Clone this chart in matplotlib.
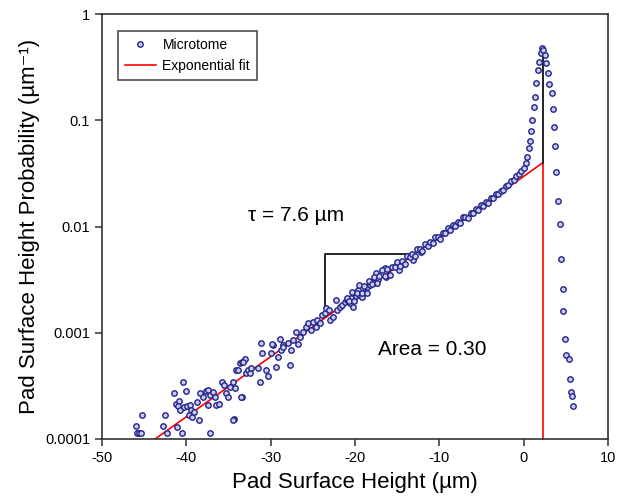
import matplotlib
matplotlib.use("Agg")
import matplotlib.pyplot as plt
from matplotlib.lines import Line2D

plt.rcParams['font.family'] = ['Liberation Sans', 'DejaVu Sans']
plt.rcParams['axes.unicode_minus'] = False

# ---- data ----
# lower tail (sparse, noisy)
tail_x = [-45.30, -45.98, -45.82, -45.59, -45.42, -42.54, -42.75, -42.34, -41.48, -41.24,
          -40.85, -40.97, -40.77, -41.16, -40.38, -40.06, -40.57, -40.30, -39.91, -39.59,
          -39.50, -39.67, -39.27, -39.11, -38.79, -38.40, -38.49, -38.01, -37.69, -37.46,
          -37.22, -37.42, -37.14, -36.83, -36.63, -36.43, -36.12, -35.72, -35.56, -35.33,
          -35.05, -34.77, -34.46, -34.26, -34.38, -34.06, -33.67, -33.35, -33.08, -33.35,
          -32.88, -32.69, -32.49, -32.28, -33.28, -33.87, -33.47, -34.46, -31.50, -31.30,
          -30.98, -30.51, -30.32, -29.92, -29.73, -29.33, -29.14, -28.73, -28.54, -27.75,
          -27.55]
tail_p = [1.68e-4, 1.33e-4, 1.13e-4, 1.13e-4, 1.13e-4, 1.68e-4, 1.32e-4, 1.15e-4, 2.69e-4, 2.13e-4,
          2.28e-4, 2.05e-4, 1.87e-4, 1.31e-4, 3.46e-4, 2.85e-4, 1.13e-4, 2.01e-4, 2.05e-4, 2.09e-4,
          1.87e-4, 1.68e-4, 1.62e-4, 1.81e-4, 2.24e-4, 2.69e-4, 1.51e-4, 2.50e-4, 2.85e-4, 2.89e-4,
          2.59e-4, 2.09e-4, 1.13e-4, 2.79e-4, 2.50e-4, 2.09e-4, 2.13e-4, 3.46e-4, 3.22e-4, 2.69e-4,
          2.50e-4, 3.10e-4, 3.46e-4, 3.00e-4, 1.53e-4, 4.46e-4, 5.15e-4, 5.33e-4, 5.62e-4, 2.47e-4,
          4.15e-4, 4.46e-4, 4.15e-4, 4.62e-4, 5.33e-4, 4.46e-4, 2.50e-4, 1.51e-4, 4.62e-4, 3.46e-4,
          6.41e-4, 4.46e-4, 3.92e-4, 6.41e-4, 7.67e-4, 4.79e-4, 5.96e-4, 6.89e-4, 7.67e-4, 4.97e-4,
          6.89e-4]

# middle section
mid_x = [-31.10, -29.80, -28.93, -28.54, -27.95, -27.36, -26.96, -26.77, -26.57, -26.18,
         -25.86, -25.59, -25.18, -24.99, -24.67, -24.52, -24.20, -23.88, -23.61, -23.41,
         -23.10, -23.02, -22.63, -22.31, -22.15, -21.83, -21.51, -21.24, -20.97, -20.65,
         -20.45, -20.26, -19.94, -19.67, -19.47, -19.15, -18.88, -18.60, -18.28, -17.96,
         -17.69, -17.49, -17.30, -16.50, -16.31, -14.73, -14.14, -13.16, -12.17]
mid_p = [7.96e-4, 7.83e-4, 8.73e-4, 7.29e-4, 7.96e-4, 8.55e-4, 1.023e-3, 7.83e-4, 9.18e-4, 1.023e-3,
         1.140e-3, 1.245e-3, 1.062e-3, 1.271e-3, 1.140e-3, 1.318e-3, 1.227e-3, 1.469e-3, 1.545e-3, 1.698e-3,
         1.637e-3, 1.318e-3, 1.416e-3, 2.032e-3, 1.637e-3, 1.758e-3, 1.824e-3, 1.959e-3, 2.032e-3, 1.892e-3,
         2.109e-3, 1.758e-3, 2.218e-3, 2.523e-3, 2.265e-3, 2.183e-3, 2.432e-3, 2.710e-3, 2.812e-3, 3.020e-3,
         2.917e-3, 3.631e-3, 3.184e-3, 4.04e-3, 3.37e-3, 3.90e-3, 4.41e-3, 4.84e-3, 5.79e-3]

# dense band
band_x = [-21.0, -20.7, -20.4, -20.1, -19.8, -19.5, -19.2, -18.9, -18.6, -18.3,
          -18.0, -17.7, -17.4, -17.1, -16.8, -16.5, -16.2, -15.9, -15.6, -15.3,
          -15.0, -14.7, -14.4, -14.1, -13.8, -13.5, -13.2, -12.9, -12.6, -12.3,
          -12.0, -11.7, -11.4, -11.1, -10.8, -10.5, -10.2, -9.9, -9.6, -9.3,
          -9.0, -8.7, -8.4, -8.1, -7.8, -7.5, -7.2, -6.9, -6.6, -6.3,
          -6.0, -5.7, -5.4, -5.1, -4.8, -4.5, -4.2, -3.9, -3.6, -3.3,
          -3.0, -2.7, -2.4, -2.1, -1.8, -1.5, -1.2, -0.9, -0.6, -0.3]
band_p = [2.14e-3, 1.99e-3, 2.43e-3, 2.00e-3, 2.39e-3, 2.79e-3, 2.37e-3, 2.76e-3, 2.39e-3, 3.05e-3,
          2.90e-3, 3.38e-3, 2.92e-3, 3.41e-3, 3.90e-3, 3.45e-3, 3.94e-3, 3.48e-3, 4.16e-3, 4.13e-3,
          4.60e-3, 4.28e-3, 4.76e-3, 4.42e-3, 5.27e-3, 5.12e-3, 5.57e-3, 5.28e-3, 6.18e-3, 6.14e-3,
          5.82e-3, 6.79e-3, 6.59e-3, 7.18e-3, 6.97e-3, 7.96e-3, 7.91e-3, 7.67e-3, 8.75e-3, 8.69e-3,
          9.68e-3, 9.18e-3, 1.026e-2, 1.019e-2, 1.109e-2, 1.076e-2, 1.227e-2, 1.219e-2, 1.211e-2, 1.352e-2,
          1.343e-2, 1.462e-2, 1.419e-2, 1.581e-2, 1.570e-2, 1.710e-2, 1.663e-2, 1.854e-2, 1.841e-2, 2.004e-2,
          2.037e-2, 2.168e-2, 2.203e-2, 2.404e-2, 2.443e-2, 2.661e-2, 2.767e-2, 3.013e-2, 3.133e-2, 3.334e-2]

# peak
peak_x = [0.06, 0.26, 0.45, 0.65, 0.77, 0.89, 1.04, 1.24, 1.36, 1.44,
          1.72, 1.87, 2.04, 2.22, 2.35, 2.54, 2.70, 2.90, 3.05, 3.34,
          3.46, 3.61, 3.73, 3.88, 4.05, 4.32, 4.47, 4.64, 4.71, 4.91,
          5.07, 5.38, 5.50, 5.62, 5.74, 5.89]
peak_p = [0.0353, 0.0393, 0.0454, 0.0544, 0.0642, 0.0798, 0.1005, 0.134, 0.167, 0.226,
          0.297, 0.356, 0.432, 0.475, 0.46, 0.411, 0.348, 0.277, 0.218, 0.180,
          0.128, 0.0859, 0.0573, 0.0328, 0.0174, 0.01056, 0.00491, 0.00258, 0.0016, 0.00087,
          0.000616, 0.000566, 0.000365, 0.000277, 0.000254, 0.000205]

# exponential fit end points and annotation geometry
fit_x = [-43.7, 2.3]
fit_p = [1.0e-4, 0.040]
peak_top = 0.475
tri_x = [-23.5, -23.5, -13.0]
tri_p = [1.58e-3, 5.47e-3, 5.47e-3]

x_ticks = [-50, -40, -30, -20, -10, 0, 10]
y_ticks = [1e-4, 1e-3, 1e-2, 1e-1, 1]
y_tick_labels = ["0.0001", "0.001", "0.01", "0.1", "1"]

# ---- figure ----
W, H = 617, 503
fig = plt.figure(figsize=(W / 100, H / 100), dpi=100)
ax = fig.add_axes([102 / W, 1 - 439 / H, (608 - 102) / W, (439 - 14) / H])
ax.set_yscale('log')
ax.set_xlim(-50, 10)
ax.set_ylim(1e-4, 1)

navy = '#22228a'
mk = dict(linestyle='none', marker='o', markersize=3.9, markerfacecolor='#c9cdf0',
          markeredgecolor=navy, markeredgewidth=1.0)

# fit line and annotations (under markers)
ax.plot(fit_x, fit_p, color='red', lw=1.2, zorder=2)
ax.plot([fit_x[1], fit_x[1]], [fit_p[1], 1e-4], color='red', lw=1.2, zorder=2, clip_on=False)
ax.plot([fit_x[1], fit_x[1]], [fit_p[1], peak_top], color='#222222', lw=1.4, zorder=2)
ax.plot(tri_x, tri_p, color='black', lw=1.2, zorder=2)

ax.plot(tail_x, tail_p, zorder=3, **mk)
ax.plot(mid_x, mid_p, zorder=3, **mk)
ax.plot(band_x, band_p, zorder=3, **mk)
ax.plot(peak_x, peak_p, zorder=3, **mk)

ax.text(-32.7, 0.0128, "τ = 7.6 µm", fontsize=15, va='center', ha='left')
ax.text(-17.3, 6.9e-4, "Area = 0.30", fontsize=15, va='center', ha='left')

ax.set_xticks(x_ticks)
ax.set_yticks(y_ticks)
ax.set_yticklabels(y_tick_labels)
ax.minorticks_off()
ax.tick_params(labelsize=10.5, direction='out', length=5, width=1.1, color='#333333')
for s in ax.spines.values():
    s.set_color('#333333')
    s.set_linewidth(1.2)

ax.set_xlabel("Pad Surface Height (µm)", fontsize=16, labelpad=5)
ax.set_ylabel("Pad Surface Height Probability (µm⁻¹)", fontsize=16, labelpad=4)

handles = [Line2D([], [], **mk), Line2D([], [], color='red', lw=1.2)]
leg = ax.legend(handles, ["Microtome", "Exponential fit"], loc='upper left',
                bbox_to_anchor=(0.018, 0.976), fontsize=10, frameon=True, fancybox=False,
                borderpad=0.5, handlelength=2.2, handletextpad=0.5, labelspacing=0.5)
leg.get_frame().set_edgecolor('#222222')
leg.get_frame().set_linewidth(1.2)

fig.savefig("out.png", dpi=100)
